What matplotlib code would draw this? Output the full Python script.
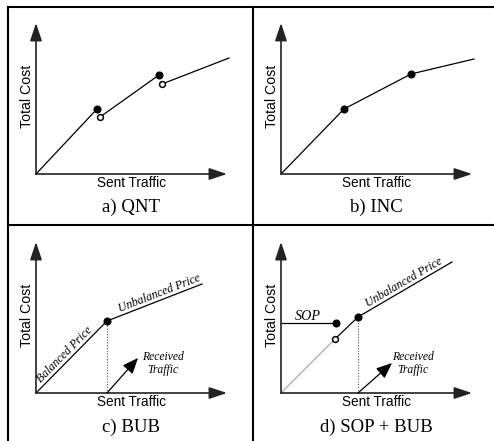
import numpy as np
import matplotlib
matplotlib.use("Agg")
from matplotlib import pyplot as plt
from matplotlib.lines import Line2D

# figure size in pixels
W, H = 494, 441

# schematic data (traffic, cost) relative to origin
captions = ["a) QNT", "b) INC", "c) BUB", "d) SOP + BUB"]

qnt_segments = [[(0, 0), (61, 65)], [(64, 57), (123, 99)], [(126, 90), (193, 116)]]
qnt_filled = [(61, 65), (123, 99)]
qnt_open = [(64, 57), (126, 90)]

inc_traffic = [0, 63, 130, 193]
inc_cost = [0, 65, 100, 115]

bub_traffic = [0, 71, 166]
bub_cost = [0, 72, 109]
bub_received = [(71, 0), (102, 35)]

sop_level = 70
sop_end = 55
sop_open = (54, 54)
sopbub_traffic = [54, 77, 171]
sopbub_cost = [54, 76, 131]
sop_received = [(77, 0), (111, 30)]

axis_x_len, axis_y_len = 191, 151

# cell boxes (x0, y0, x1, y1) and origins, in pixels
cells = [(8, 7, 253, 225), (253, 7, 494, 225), (8, 225, 253, 441), (253, 225, 494, 441)]
origins = [(36, 174), (281, 174), (36, 393), (281, 393)]

fig = plt.figure(figsize=(W / 100, H / 100), dpi=100)

serif = "Liberation Serif"
sans = "Liberation Sans"


def make_ax(cell, origin):
    x0, y0, x1, y1 = cell
    ox, oy = origin
    ax = fig.add_axes([x0 / W, 1 - y1 / H, (x1 - x0) / W, (y1 - y0) / H])
    ax.set_xlim(x0 - ox, x1 - ox)
    ax.set_ylim(oy - y1, oy - y0)
    ax.axis("off")
    return ax


def draw_axes(ax, caption, cap_y):
    ap = dict(arrowstyle="-|>,head_length=0.6,head_width=0.2", color="#222222",
              lw=1.2, shrinkA=0, shrinkB=0, mutation_scale=18)
    ax.annotate("", xy=(0, axis_y_len), xytext=(0, 0), arrowprops=ap)
    ax.annotate("", xy=(axis_x_len, 0), xytext=(0, 0), arrowprops=ap)
    ax.text(-9, 78, "Total Cost", rotation=90, ha="center", va="center",
            family=sans, fontsize=10.2)
    ax.text(95, -9, "Sent Traffic", ha="center", va="center", family=sans, fontsize=9.8)
    ax.text(95, cap_y, caption, ha="center", va="center", family=serif, fontsize=13.5)


def filled(ax, pts):
    for x, y in pts:
        ax.plot(x, y, "o", color="black", ms=4.8, zorder=5)


def hollow(ax, pts):
    for x, y in pts:
        ax.plot(x, y, "o", mfc="white", mec="black", mew=1.1, ms=4.2, zorder=5)


def received(ax, seg, tx):
    (x0, y0), (x1, y1) = seg
    ax.annotate("", xy=(x1, y1), xytext=(x0, y0),
                arrowprops=dict(arrowstyle="-|>,head_length=0.6,head_width=0.25",
                                color="black", lw=0.9, shrinkA=0, shrinkB=0,
                                mutation_scale=16))
    ax.text(tx, 36, "Received", ha="center", va="center", family=serif,
            style="italic", fontsize=8.4)
    ax.text(tx, 23, "Traffic", ha="center", va="center", family=serif,
            style="italic", fontsize=8.4)


def line_label(ax, p0, p1, frac, text, off=0.5):
    (x0, y0), (x1, y1) = p0, p1
    ang = np.degrees(np.arctan2(y1 - y0, x1 - x0))
    x = x0 + frac * (x1 - x0)
    y = y0 + frac * (y1 - y0)
    nx, ny = -np.sin(np.radians(ang)), np.cos(np.radians(ang))
    ax.text(x + off * nx, y + off * ny, text, rotation=ang, rotation_mode="anchor",
            ha="center", va="bottom", family=serif, style="italic", fontsize=8.6)


# a) QNT
ax = make_ax(cells[0], origins[0])
draw_axes(ax, captions[0], -33)
for seg in qnt_segments:
    xs, ys = zip(*seg)
    ax.plot(xs, ys, color="black", lw=0.9)
filled(ax, qnt_filled)
hollow(ax, qnt_open)

# b) INC
ax = make_ax(cells[1], origins[1])
draw_axes(ax, captions[1], -33)
ax.plot(inc_traffic, inc_cost, color="black", lw=0.9)
filled(ax, list(zip(inc_traffic[1:3], inc_cost[1:3])))

# c) BUB
ax = make_ax(cells[2], origins[2])
draw_axes(ax, captions[2], -34)
ax.plot(bub_traffic, bub_cost, color="black", lw=0.9)
filled(ax, [(bub_traffic[1], bub_cost[1])])
ax.plot([bub_traffic[1], bub_traffic[1]], [0, bub_cost[1]], color="#555555",
        lw=0.8, ls=(0, (1, 1.5)))
line_label(ax, (0, 0), (bub_traffic[1], bub_cost[1]), 0.47, "Balanced Price", off=1.0)
line_label(ax, (bub_traffic[1], bub_cost[1]), (bub_traffic[2], bub_cost[2]), 0.58,
           "Unbalanced Price")
received(ax, bub_received, 127)

# d) SOP + BUB
ax = make_ax(cells[3], origins[3])
draw_axes(ax, captions[3], -34)
ax.plot([0, sop_end], [sop_level, sop_level], color="black", lw=0.9)
ax.text(27, 76, "SOP", ha="center", va="center", family=serif, style="italic",
        fontsize=10.2)
ax.plot([0, sop_open[0]], [0, sop_open[1]], color="#aaaaaa", lw=0.9)
ax.plot(sopbub_traffic, sopbub_cost, color="black", lw=0.9)
filled(ax, [(sop_end, sop_level), (sopbub_traffic[1], sopbub_cost[1])])
hollow(ax, [sop_open])
ax.plot([sopbub_traffic[1], sopbub_traffic[1]], [0, sopbub_cost[1]], color="#555555",
        lw=0.8, ls=(0, (1, 1.5)))
line_label(ax, (sopbub_traffic[1], sopbub_cost[1]), (sopbub_traffic[2], sopbub_cost[2]),
           0.52, "Unbalanced Price")
received(ax, sop_received, 132)

# table frame
frame = [((8, 494), (7, 7)), ((8, 8), (7, 441)), ((253, 253), (7, 441)),
         ((8, 494), (225, 225))]
for xs, ys in frame:
    fig.add_artist(Line2D([x / W for x in xs], [1 - y / H for y in ys],
                          color="black", lw=1.5, transform=fig.transFigure))

plt.savefig("out.png", dpi=100, facecolor="white")
